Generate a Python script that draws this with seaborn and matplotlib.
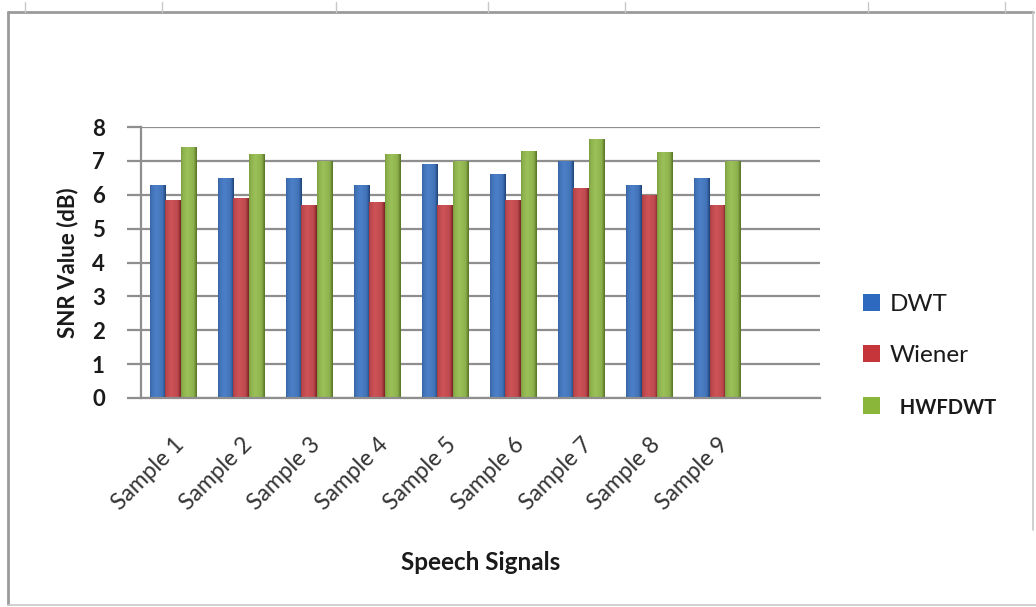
import numpy as np
import pandas as pd
import matplotlib
matplotlib.use("Agg")
import matplotlib.pyplot as plt
import matplotlib.colors as mcolors
from matplotlib.lines import Line2D
from matplotlib.patches import Rectangle
import seaborn as sns

# SNR results per speech sample for the three denoising methods
samples = [f"Sample {i}" for i in range(1, 10)]
dwt = [6.3, 6.5, 6.5, 6.3, 6.9, 6.6, 7.0, 6.3, 6.5]
wiener = [5.85, 5.9, 5.7, 5.8, 5.7, 5.85, 6.2, 6.0, 5.7]
hwfdwt = [7.4, 7.2, 7.0, 7.2, 7.0, 7.3, 7.65, 7.25, 7.0]
methods = ["DWT", "Wiener", "HWFDWT"]
colors = ["#2c69bf", "#c5353a", "#8ab63a"]

df = pd.DataFrame({
    "Sample": samples * 3,
    "Method": sum([[m] * len(samples) for m in methods], []),
    "SNR": dwt + wiener + hwfdwt,
})

sns.set_theme(style="white")
plt.rcParams["font.family"] = ["Lato", "DejaVu Sans"]

fig = plt.figure(figsize=(10.36, 6.07), dpi=100)
ax = fig.add_axes([141 / 1036, 1 - 398 / 607, (820 - 141) / 1036, (398 - 127) / 607])

sns.barplot(data=df, x="Sample", y="SNR", hue="Method", palette=colors,
            width=0.68, ax=ax, legend=False, saturation=1,
            edgecolor="none", linewidth=0)

# give each bar a soft cylindrical shading
shade = np.linspace(0, 1, 64)
for cont, base in zip(ax.containers, colors):
    rgb = np.array(mcolors.to_rgb(base))
    dark = rgb * 0.6
    light = np.clip(rgb + (1 - rgb) * 0.15, 0, 1)
    prof = np.interp(shade, [0, 0.1, 0.4, 0.8, 1.0], [0.55, 0.8, 1.0, 0.8, 0.05])
    img = dark[None, :] + (light - dark)[None, :] * prof[:, None]
    img = img[None, :, :]
    for bar in cont:
        x0, w, h = bar.get_x(), bar.get_width(), bar.get_height()
        bar.set_facecolor(base)
        im = ax.imshow(img, extent=[x0, x0 + w, 0, h], aspect="auto",
                       interpolation="bilinear", zorder=bar.get_zorder() + 0.1)
        im.set_clip_path(bar)

ax.set_xlim(-0.47, 9.51)
ax.set_ylim(0, 8)
ax.set_yticks(range(0, 9))
ax.set_axisbelow(True)
ax.yaxis.grid(True, color="#8e8e8e", linewidth=1.6)
ax.xaxis.grid(False)

for side in ["top", "right"]:
    ax.spines[side].set_visible(False)
ax.spines["left"].set_color("#8e8e8e")
ax.spines["left"].set_linewidth(1.6)
ax.spines["bottom"].set_color("#8e8e8e")
ax.spines["bottom"].set_linewidth(1.6)

ax.tick_params(axis="y", which="major", left=True, length=10, width=1.6,
               color="#8e8e8e", labelsize=16, pad=16, labelcolor="#1a1a1a")
ax.tick_params(axis="x", which="major", bottom=False, labelsize=16.5, pad=20,
               labelcolor="#333333")
for lbl in ax.get_yticklabels():
    lbl.set_fontweight("bold")
ax.set_xticks(range(len(samples)))
ax.set_xticklabels(samples, rotation=45, ha="right", rotation_mode="anchor")

ax.set_ylabel("SNR Value (dB)", fontsize=16, fontweight="bold", labelpad=10,
              color="#1a1a1a")
ax.set_xlabel("Speech Signals", fontsize=17.5, fontweight="bold",
              color="#1a1a1a")
ax.xaxis.set_label_coords(0.5, -0.565)

# legend on the right of the plot area
handles = [Rectangle((0, 0), 1, 1, facecolor=c, edgecolor="none") for c in colors]
leg = fig.legend(handles, ["DWT", "Wiener", "  HWFDWT"], loc="upper left",
                 bbox_to_anchor=(841 / 1036, 1 - 272 / 607), frameon=False,
                 fontsize=17.5, handlelength=0.7, handleheight=0.7,
                 handletextpad=0.4, labelspacing=1.25)
for t in leg.get_texts():
    t.set_color("#1a1a1a")
leg.get_texts()[2].set_fontweight("bold")
leg.get_texts()[2].set_fontsize(14.5)

# chart frame
frame_col = "#9a9a9a"
fig.add_artist(Line2D([8 / 1036, 8 / 1036], [1 - 604 / 607, 1 - 12 / 607],
                      transform=fig.transFigure, color=frame_col, lw=2))
fig.add_artist(Line2D([8 / 1036, 1033 / 1036], [1 - 12 / 607, 1 - 12 / 607],
                      transform=fig.transFigure, color=frame_col, lw=2))
fig.add_artist(Line2D([1033 / 1036, 1033 / 1036], [1 - 530 / 607, 1 - 12 / 607],
                      transform=fig.transFigure, color="#c8c8c8", lw=1.2))
fig.add_artist(Line2D([8 / 1036, 1036 / 1036], [1 - 605 / 607, 1 - 605 / 607],
                      transform=fig.transFigure, color="#c8c8c8", lw=1.2))
for xp in [25, 162, 336, 488, 625, 868, 1005]:
    fig.add_artist(Line2D([xp / 1036, xp / 1036], [1 - 12 / 607, 1 - 2 / 607],
                          transform=fig.transFigure, color="#c8c8c8", lw=1))

fig.savefig("out.png", dpi=100)
